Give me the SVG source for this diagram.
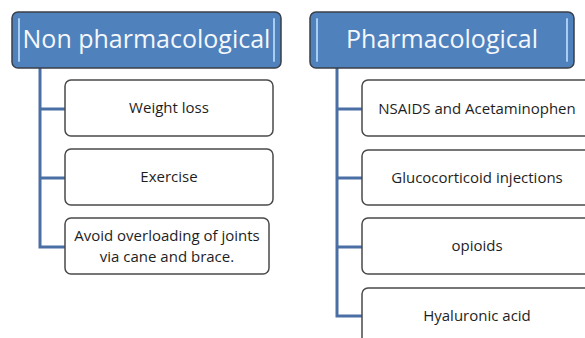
<svg xmlns="http://www.w3.org/2000/svg" width="585" height="338" viewBox="0 0 585 338">
<style>
.hdr{fill:#4f81bd;stroke:#3a3f48;stroke-width:1.5}
.hl{stroke:#a9cdf0;stroke-width:2;stroke-linecap:round}
.ht{font-family:"Open Sans",sans-serif;font-size:25px;fill:#f4f7fb;text-anchor:middle}
.box{fill:#ffffff;stroke:#4a4a4a;stroke-width:1.5}
.bt{font-family:"Open Sans",sans-serif;font-size:15px;fill:#1e1e1e;text-anchor:middle}
.con{fill:none;stroke:#4a6fa5;stroke-width:3}
</style>
<rect width="585" height="338" fill="#ffffff"/>
<g id="connectors">
<path class="con" d="M40 68 V247 M38.5 109 H65 M38.5 178 H65 M38.5 247 H65"/>
<path class="con" d="M337 68 V316 M335.5 109 H362 M335.5 178 H362 M335.5 247 H362 M335.5 316 H362"/>
</g>
<g id="non-pharmacological">
<rect class="hdr" x="12" y="12" width="269" height="56" rx="6"/>
<line class="hl" x1="19" y1="19" x2="19" y2="61"/>
<line class="hl" x1="274" y1="19" x2="274" y2="61"/>
<text class="ht" x="146.5" y="48">Non pharmacological</text>
</g>
<g id="pharmacological">
<rect class="hdr" x="310" y="12" width="264" height="56" rx="6"/>
<line class="hl" x1="317" y1="19" x2="317" y2="61"/>
<line class="hl" x1="567" y1="19" x2="567" y2="61"/>
<text class="ht" x="442" y="48">Pharmacological</text>
</g>
<g id="weight-loss">
<rect class="box" x="65" y="80" width="208" height="56" rx="6"/>
<text class="bt" x="169" y="113">Weight loss</text>
</g>
<g id="exercise">
<rect class="box" x="65" y="149" width="208" height="56" rx="6"/>
<text class="bt" x="169" y="182">Exercise</text>
</g>
<g id="avoid-overloading">
<rect class="box" x="65" y="218" width="204" height="56" rx="6"/>
<text class="bt" x="167" y="241">Avoid overloading of joints</text>
<text class="bt" x="167" y="261.5">via cane and brace.</text>
</g>
<g id="nsaids">
<rect class="box" x="362" y="80" width="230" height="56" rx="6"/>
<text class="bt" x="477" y="114">NSAIDS and Acetaminophen</text>
</g>
<g id="glucocorticoid">
<rect class="box" x="362" y="150" width="230" height="55" rx="6"/>
<text class="bt" x="477" y="183">Glucocorticoid injections</text>
</g>
<g id="opioids">
<rect class="box" x="362" y="218" width="230" height="56" rx="6"/>
<text class="bt" x="477" y="251">opioids</text>
</g>
<g id="hyaluronic">
<rect class="box" x="362" y="288" width="230" height="56" rx="6"/>
<text class="bt" x="477" y="321">Hyaluronic acid</text>
</g>
</svg>
